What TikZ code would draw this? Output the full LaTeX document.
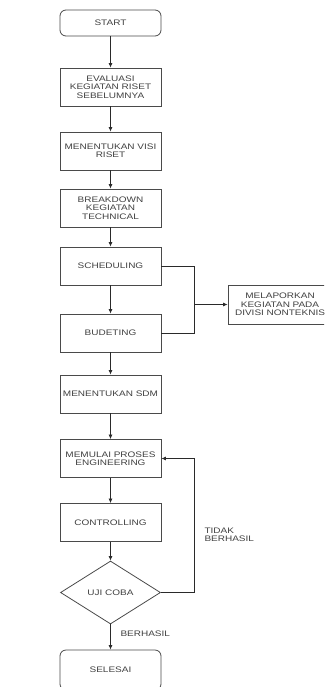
\documentclass[tikz,border=0pt]{standalone}
\usepackage{fontspec}
\setmainfont[FakeStretch=1.25]{Liberation Sans}
\usetikzlibrary{arrows.meta,shapes.geometric}
\definecolor{txt}{HTML}{404040}
\definecolor{edge}{HTML}{4A4A4A}
\definecolor{wire}{HTML}{2A2A2A}
\begin{document}
\begin{tikzpicture}[x=1pt,y=-1pt,
  lbl/.style={font=\fontsize{8}{8.4}\selectfont, text=txt},
  box/.style={lbl, draw=edge, line width=0.8pt, minimum width=101pt, minimum height=38pt, inner sep=1pt, align=center, fill=white},
  term/.style={box, rounded corners=6pt, minimum height=26pt},
  dec/.style={lbl, draw=edge, line width=0.8pt, diamond, aspect=1.59, minimum width=100pt, minimum height=63pt, inner sep=0pt},
  conn/.style={draw=wire, line width=0.7pt},
  arr/.style={conn, -{Latex[length=4.5pt,width=4pt]}}]
\useasboundingbox (0,0) rectangle (324,687);
\clip (0,0) rectangle (324,687);
\node[term] (start) at (110.5,23) {START};
\node[box] (eval) at (110.5,87) {EVALUASI\\KEGIATAN RISET\\SEBELUMNYA};
\node[box] (visi) at (110.5,151) {MENENTUKAN VISI\\RISET};
\node[box] (brk) at (110.5,208) {BREAKDOWN\\KEGIATAN\\TECHNICAL};
\node[box] (sched) at (110.5,266) {SCHEDULING};
\node[box] (budet) at (110.5,333) {BUDETING};
\node[box] (sdm) at (110.5,394) {MENENTUKAN SDM};
\node[box] (mulai) at (110.5,458.5) {MEMULAI PROSES\\ENGINEERING};
\node[box] (ctrl) at (110.5,522.5) {CONTROLLING};
\node[dec] (uji) at (110.5,592.5) {UJI COBA};
\node[term, minimum height=40pt] (selesai) at (110.5,670) {SELESAI};
\node[box, minimum width=104pt, minimum height=39pt, text width=100pt] (lapor) at (280,304.5) {MELAPORKAN\\KEGIATAN PADA\\DIVISI NONTEKNIS};
\coordinate (j1) at (194,266);
\coordinate (j2) at (194,333);
\coordinate (jm) at (194,304.5);
\coordinate (l1) at (194,592.5);
\coordinate (l2) at (194,458.5);
\draw[arr] (start) -- (eval);
\draw[arr] (eval) -- (visi);
\draw[arr] (visi) -- (brk);
\draw[arr] (brk) -- (sched);
\draw[arr] (sched) -- (budet);
\draw[arr] (budet) -- (sdm);
\draw[arr] (sdm) -- (mulai);
\draw[arr] (mulai) -- (ctrl);
\draw[arr] (ctrl) -- (uji);
\draw[arr] (uji) -- (selesai);
\draw[conn] (sched.east) -- (j1) -- (j2) -- (budet.east);
\draw[arr] (jm) -- (lapor.west);
\draw[arr] (uji.east) -- (l1) -- (l2) -- (mulai.east);
\node[lbl, anchor=west, align=left] (tidak) at (201,535) {TIDAK\\BERHASIL};
\node[lbl, anchor=west] (berhasil) at (117,634) {BERHASIL};
\end{tikzpicture}
\end{document}
